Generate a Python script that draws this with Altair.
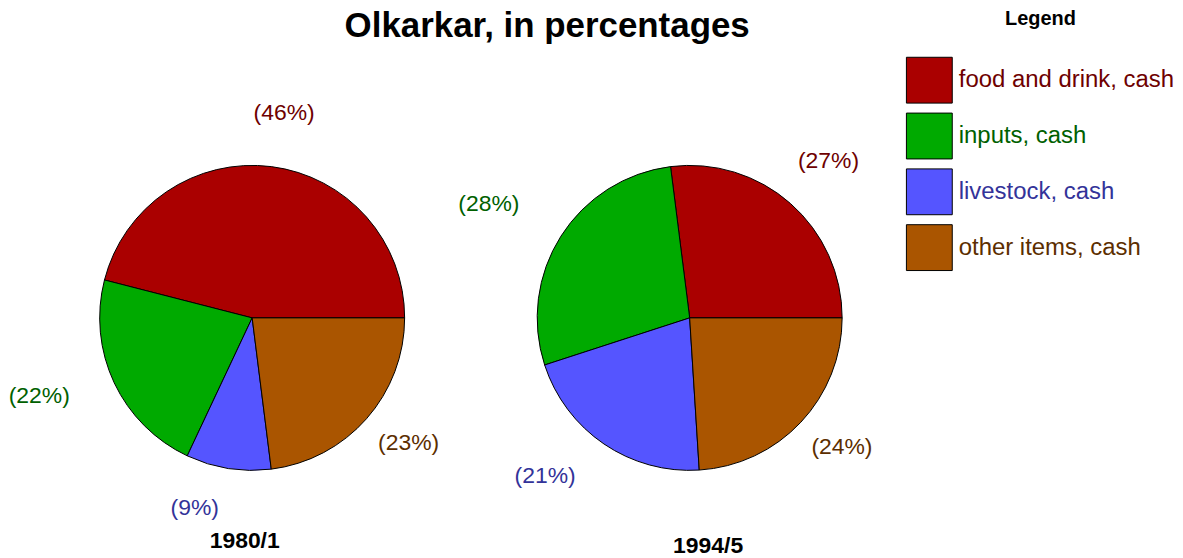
import math
import altair as alt
import pandas as pd

# ---------------- data ----------------
periods = ["1980/1", "1994/5"]
categories = ["food and drink, cash", "inputs, cash", "livestock, cash", "other items, cash"]
values_1980 = [46, 22, 9, 23]
values_1994 = [27, 28, 21, 24]

# ---------------- style ----------------
slice_colors = ["#AA0000", "#00AA00", "#5555FF", "#AA5500"]
label_colors = ["#6E0000", "#006000", "#333399", "#5C2E00"]
FONT = "Liberation Sans"
W, H = 1160, 420
PIE_R = 153
LABEL_R = 200
PIE_CENTERS = [245, 684]
TITLE_SIZE = 35

rows = []
for period, vals in zip(periods, [values_1980, values_1994]):
    for i, (c, v) in enumerate(zip(categories, vals)):
        rows.append({"period": period, "category": c, "value": v, "idx": i})
df = pd.DataFrame(rows)

theta_scale = alt.Scale(domain=[0, 100], range=[math.pi / 2, 2.5 * math.pi])

x_enc = alt.X(
    "period:N",
    scale=alt.Scale(type="point", domain=periods, range=PIE_CENTERS, padding=0),
    axis=alt.Axis(
        title=None, domain=False, ticks=False, tickSize=0, grid=False,
        labelFontSize=23, labelFontWeight="bold", labelFont=FONT, labelColor="black",
        labelAngle=0,
        labelOffset={"condition": {"test": "datum.value == '1980/1'", "value": -8}, "value": 18},
        labelPadding={"condition": {"test": "datum.value == '1980/1'", "value": 2}, "value": 7},
    ),
)

label_expr = " : ".join(
    f"datum.value == '{c}' ? '{col}'" for c, col in zip(categories, label_colors)
) + " : 'black'"

base = (
    alt.Chart(df)
    .transform_stack(
        stack="value", groupby=["period"], as_=["v0", "v1"],
        sort=[alt.SortField("idx", order="descending")],
    )
    .transform_calculate(mid="(datum.v0 + datum.v1) / 2", label="'(' + datum.value + '%)'")
)

arcs = base.mark_arc(radius=PIE_R, stroke="black", strokeWidth=1).encode(
    x=x_enc,
    theta=alt.Theta("v0:Q", scale=theta_scale),
    theta2="v1:Q",
    color=alt.Color(
        "category:N",
        scale=alt.Scale(domain=categories, range=slice_colors),
        legend=alt.Legend(
            orient="none", legendX=901, legendY=-100,
            title="Legend", titleFontSize=20, titleFontWeight="bold", titleFont=FONT,
            titleColor="black", titleAnchor="middle", titlePadding=28,
            symbolType="square", symbolSize=2116, symbolStrokeColor="black",
            symbolStrokeWidth=1, symbolOpacity=1,
            labelFontSize=24, labelFont=FONT, labelOffset=6, labelLimit=400,
            labelColor=alt.ExprRef(label_expr),
            rowPadding=5, padding=0,
        ),
    ),
)

# labels on the left half of a pie are right-aligned at the label radius
left_half = "cos(2 * PI * datum.mid / 100) < 0"
texts = base.mark_text(
    radius=LABEL_R, fontSize=23, font=FONT, dy=-7,
    align=alt.ExprRef(f"{left_half} ? 'right' : 'center'"),
    dx=alt.ExprRef(f"{left_half} ? -2 : 7"),
).encode(
    x=x_enc,
    theta=alt.Theta("mid:Q", scale=theta_scale),
    text="label:N",
    fill=alt.Fill("category:N", scale=alt.Scale(domain=categories, range=label_colors), legend=None),
)

chart = (
    alt.layer(arcs, texts)
    .properties(
        width=W, height=H, padding=0,
        title=alt.TitleParams(
            "Olkarkar, in percentages", fontSize=TITLE_SIZE, fontWeight="bold", font=FONT,
            color="black", anchor="middle", frame="group", dx=-39, offset=-TITLE_SIZE,
        ),
    )
    .configure_view(stroke=None)
)

chart.save("out.html", embed_options={"renderer": "svg", "actions": False})
